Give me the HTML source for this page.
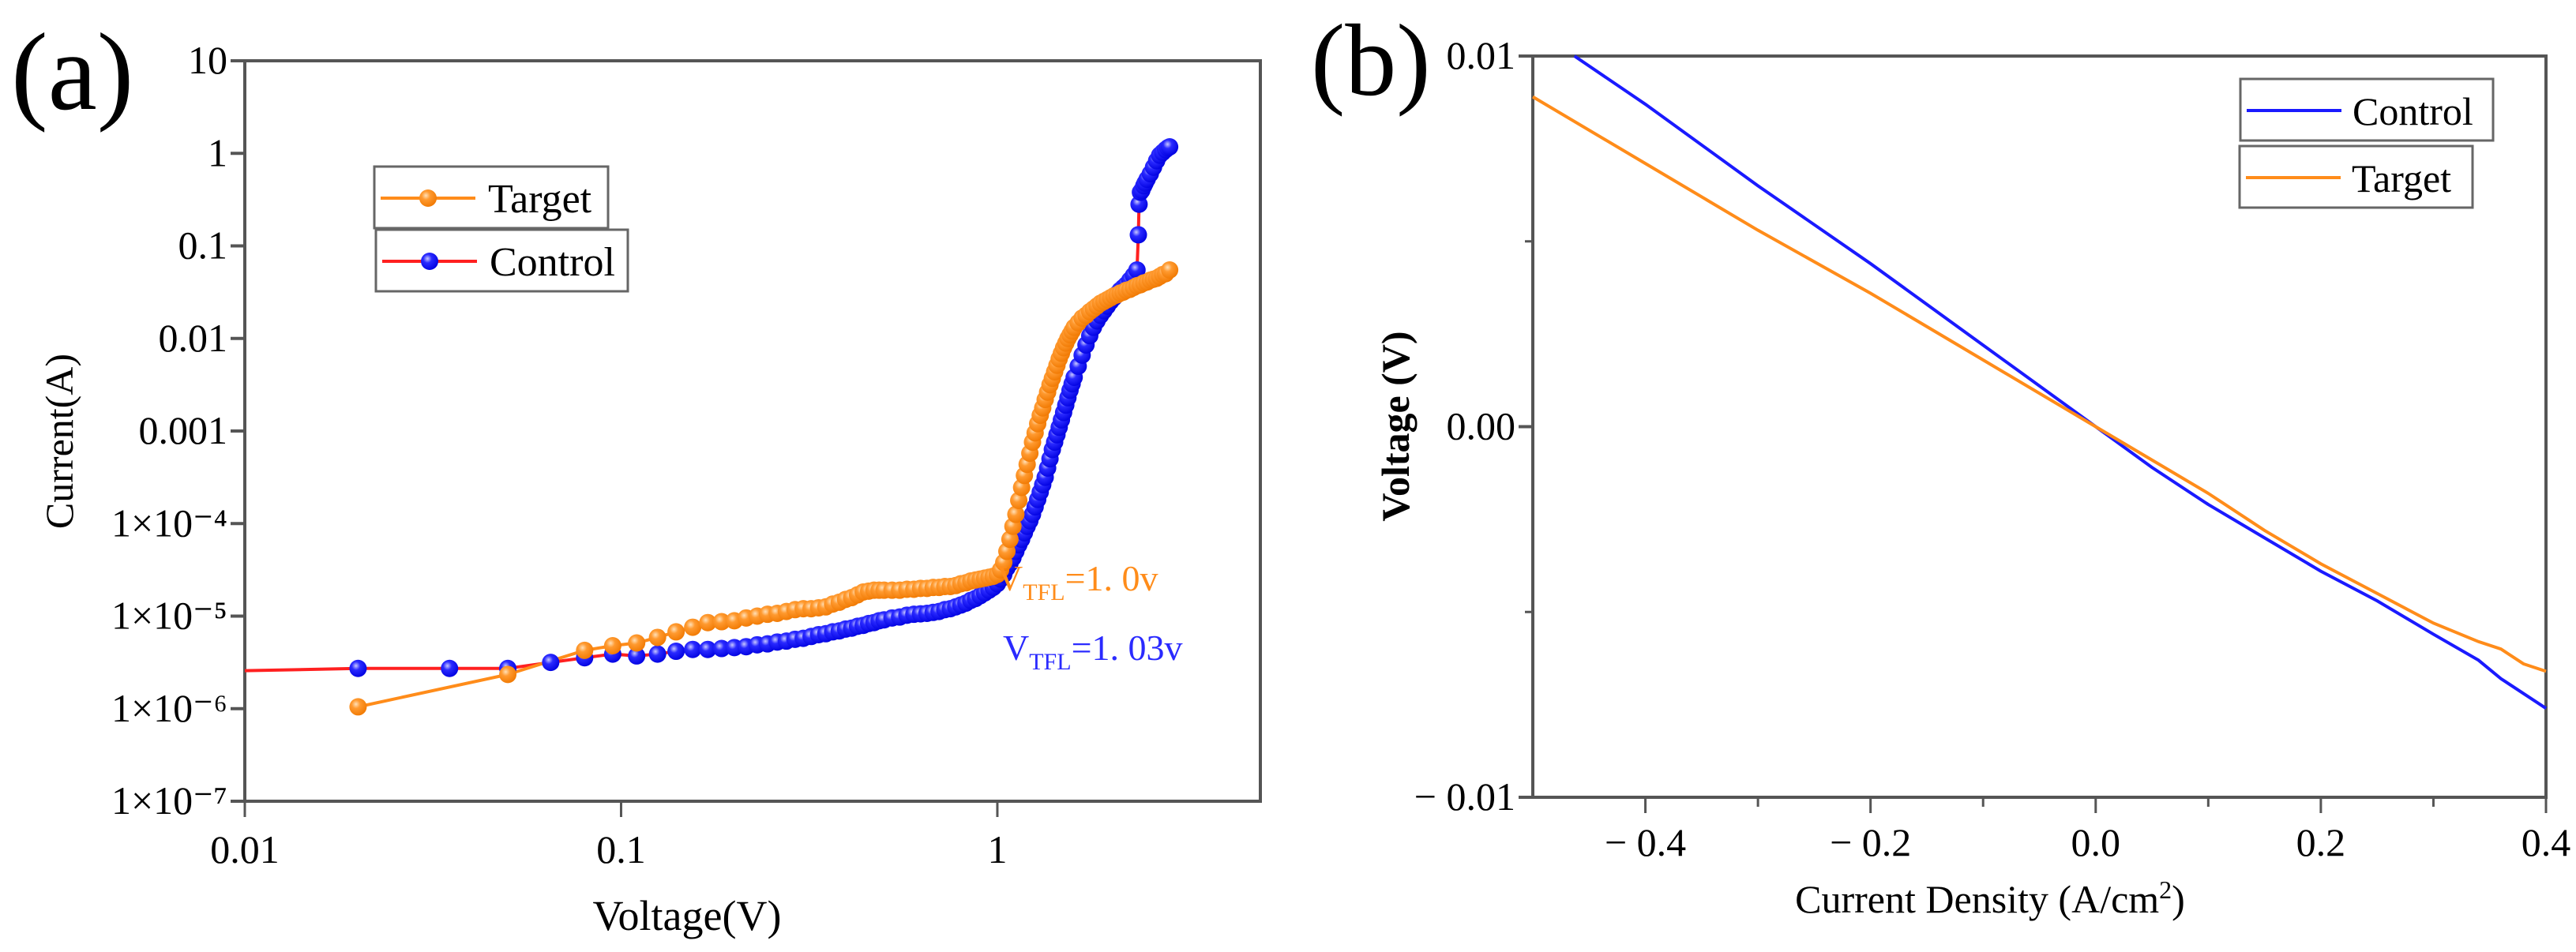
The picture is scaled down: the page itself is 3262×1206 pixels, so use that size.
<!DOCTYPE html>
<html><head><meta charset="utf-8">
<style>
html,body{margin:0;padding:0;background:#fff;}
svg{display:block;font-family:"Liberation Serif",serif;}
</style></head>
<body>
<svg id="fig" width="3262" height="1206" viewBox="0 0 3262 1206" xmlns="http://www.w3.org/2000/svg">
<defs>
<radialGradient id="gO" cx="0.38" cy="0.35" r="0.7"><stop offset="0" stop-color="#ffe0b8"/><stop offset="0.35" stop-color="#ff9a30"/><stop offset="1" stop-color="#f07800"/></radialGradient>
<radialGradient id="gB" cx="0.38" cy="0.35" r="0.7"><stop offset="0" stop-color="#c8c8ff"/><stop offset="0.35" stop-color="#2a2aff"/><stop offset="1" stop-color="#0000e0"/></radialGradient>
</defs>
<text x="14" y="138" font-size="140">(a)</text>
<text x="1660" y="120" font-size="130">(b)</text>
<g id="left"></g>
<g id="right"></g>
</svg>
<script>
// ---- Panel (a) data ----
const ctrlV = [0.02,0.035,0.05,0.065,0.08,0.095,0.11,0.125,0.14,0.155,0.17,0.185,0.2,0.215,0.23,0.245,0.26,0.275,0.29,0.305,0.32,0.335,0.35,0.365,0.38,0.395,0.41,0.425,0.44,0.455,0.47,0.485,0.5,0.525,0.55,0.575,0.6,0.625,0.65,0.675,0.7,0.725,0.75,0.775,0.8,0.825,0.85,0.875,0.9,0.925,0.95,0.975,
1.0,1.02,1.04,1.06,1.08,1.1,1.12,1.14,1.16,1.18,1.2,1.22,1.24,1.26,1.28,1.3,1.32,1.34,1.36,1.38,1.4,1.42,1.44,1.46,1.48,1.5,1.52,1.54,1.56,1.58,1.6,1.64,1.68,1.72,1.76,1.8,1.84,1.88,1.92,1.96,2.0,2.04,2.08,2.12,2.16,2.2,2.25,2.3,2.35,2.37,2.38,2.4,2.42,2.45,2.47,2.5,2.55,2.6,2.65,2.7,2.75,2.8,2.84,2.87];
const ctrlLogI = [-5.565,-5.565,-5.565,-5.5,-5.45,-5.41,-5.43,-5.41,-5.38,-5.36,-5.36,-5.35,-5.34,-5.33,-5.31,-5.3,-5.28,-5.27,-5.25,-5.24,-5.22,-5.2,-5.19,-5.17,-5.16,-5.14,-5.13,-5.11,-5.1,-5.08,-5.07,-5.05,-5.04,-5.02,-5.01,-4.99,-4.98,-4.975,-4.97,-4.96,-4.95,-4.93,-4.92,-4.9,-4.88,-4.86,-4.83,-4.81,-4.78,-4.75,-4.72,-4.69,
-4.65,-4.6,-4.55,-4.48,-4.43,-4.37,-4.3,-4.23,-4.17,-4.1,-4.03,-3.97,-3.9,-3.82,-3.74,-3.66,-3.58,-3.5,-3.4,-3.3,-3.2,-3.12,-3.04,-2.96,-2.88,-2.8,-2.72,-2.64,-2.56,-2.49,-2.42,-2.3,-2.18,-2.07,-1.97,-1.88,-1.81,-1.75,-1.7,-1.65,-1.6,-1.56,-1.52,-1.48,-1.45,-1.42,-1.37,-1.32,-1.26,-0.88,-0.55,-0.42,-0.4,-0.35,-0.32,-0.28,-0.22,-0.15,-0.08,-0.02,0.01,0.04,0.06,0.07];
const targV = [0.02,0.05,0.08,0.095,0.11,0.125,0.14,0.155,0.17,0.185,0.2,0.215,0.23,0.245,0.26,0.275,0.29,0.305,0.32,0.335,0.35,0.365,0.38,0.395,0.41,0.425,0.44,0.455,0.47,0.485,0.5,0.525,0.55,0.575,0.6,0.625,0.65,0.675,0.7,0.725,0.75,0.775,0.8,0.825,0.85,0.875,0.9,0.925,0.95,0.975,
1.0,1.02,1.04,1.06,1.08,1.1,1.12,1.14,1.16,1.18,1.2,1.22,1.24,1.26,1.28,1.3,1.32,1.34,1.36,1.38,1.4,1.42,1.44,1.46,1.48,1.5,1.52,1.54,1.56,1.58,1.6,1.64,1.68,1.72,1.76,1.8,1.84,1.88,1.92,1.96,2.0,2.04,2.08,2.12,2.16,2.2,2.25,2.3,2.35,2.4,2.45,2.5,2.55,2.6,2.65,2.7,2.75,2.8,2.87];
const targLogI = [-5.98,-5.63,-5.37,-5.32,-5.29,-5.23,-5.17,-5.12,-5.07,-5.06,-5.05,-5.02,-5.0,-4.98,-4.97,-4.95,-4.93,-4.92,-4.92,-4.91,-4.9,-4.87,-4.85,-4.82,-4.8,-4.77,-4.74,-4.73,-4.72,-4.72,-4.72,-4.72,-4.72,-4.71,-4.71,-4.7,-4.7,-4.69,-4.69,-4.68,-4.68,-4.67,-4.65,-4.64,-4.62,-4.61,-4.6,-4.59,-4.58,-4.57,
-4.55,-4.5,-4.42,-4.3,-4.17,-4.03,-3.9,-3.75,-3.61,-3.48,-3.36,-3.24,-3.12,-3.02,-2.92,-2.83,-2.75,-2.66,-2.58,-2.5,-2.43,-2.36,-2.29,-2.22,-2.16,-2.1,-2.05,-2.0,-1.96,-1.92,-1.88,-1.83,-1.78,-1.75,-1.71,-1.68,-1.65,-1.62,-1.6,-1.58,-1.56,-1.54,-1.53,-1.51,-1.5,-1.48,-1.47,-1.45,-1.43,-1.42,-1.4,-1.39,-1.37,-1.36,-1.35,-1.33,-1.31,-1.3,-1.26];
const xTicksA = [0.01,0.1,1];
const xTickLabelsA = ["0.01","0.1","1"];
const yTicksA = [1,0,-1,-2,-3,-4,-5,-6,-7];
const yTickLabelsA = ["10","1","0.1","0.01","0.001","1×10⁻⁴","1×10⁻⁵","1×10⁻⁶","1×10⁻⁷"];
// ---- Panel (b) data ----
const ctrlJ = [-0.463,-0.4,-0.3,-0.2,-0.1,0,0.05,0.1,0.15,0.2,0.25,0.3,0.34,0.36,0.4];
const ctrlVolt = [0.01,0.0087,0.0065,0.0044,0.0022,0,-0.0011,-0.0021,-0.0030,-0.0039,-0.0047,-0.0056,-0.0063,-0.0068,-0.0076];
const targJ = [-0.5,-0.4,-0.3,-0.2,-0.1,0,0.05,0.1,0.15,0.2,0.25,0.3,0.34,0.36,0.38,0.4];
const targVolt = [0.0089,0.0071,0.0053,0.0036,0.0018,0,-0.0009,-0.0018,-0.0028,-0.0037,-0.0045,-0.0053,-0.0058,-0.0060,-0.0064,-0.0066];
const xTicksB = [-0.4,-0.2,0,0.2,0.4];
const xTickLabelsB = ["− 0.4","− 0.2","0.0","0.2","0.4"];
const xMinorB = [-0.3,-0.1,0.1,0.3];
const yTicksB = [0.01,0,-0.01];
const yTickLabelsB = ["0.01","0.00","− 0.01"];
const yMinorB = [0.005,-0.005];

const NS="http://www.w3.org/2000/svg";
function mk(parent,tag,attrs,txt){const e=document.createElementNS(NS,tag);for(const k in attrs)e.setAttribute(k,attrs[k]);if(txt!==undefined)e.textContent=txt;parent.appendChild(e);return e;}

// ---- Panel (a) ----
const A={l:310,r:1596,t:77,b:1015,xmin:-2,xmax:Math.log10(5),ymin:-7,ymax:1};
const ax=v=>A.l+(Math.log10(v)-A.xmin)/(A.xmax-A.xmin)*(A.r-A.l);
const ay=lg=>A.b-(lg-A.ymin)/(A.ymax-A.ymin)*(A.b-A.t);
const gA=document.getElementById('left');
let fr=mk(gA,'rect',{x:A.l,y:A.t,width:A.r-A.l,height:A.b-A.t,fill:'none',stroke:'#555',"stroke-width":4});


yTicksA.forEach((lg,i)=>{
  let tk=mk(gA,'line',{x1:A.l-18,x2:A.l,y1:ay(lg),y2:ay(lg),stroke:'#555',"stroke-width":4});
  
  
  let t=mk(gA,'text',{x:A.l-22,y:ay(lg)+16,"font-size":50,"text-anchor":"end"},yTickLabelsA[i]);
  
  
});
xTicksA.forEach((v,i)=>{
  let tk=mk(gA,'line',{x1:ax(v),x2:ax(v),y1:A.b,y2:A.b+20,stroke:'#555',"stroke-width":3});
  
  
  let t=mk(gA,'text',{x:ax(v),y:1093,"font-size":50,"text-anchor":"middle"},xTickLabelsA[i]);
  
  
});
let xtA=mk(gA,'text',{x:870,y:1178,"font-size":54,"text-anchor":"middle"},'Voltage(V)');


let ytA=mk(gA,'text',{x:0,y:0,"font-size":50,"text-anchor":"middle",transform:'translate(92,559) rotate(-90)'},'Current(A)');


let cpts=[[A.l,ay(-5.59)]].concat(ctrlV.map((v,i)=>[ax(v),ay(ctrlLogI[i])]));
let cl=mk(gA,'polyline',{points:cpts.map(p=>p.join(',')).join(' '),fill:'none',stroke:'#ff2020',"stroke-width":4});


let tl=mk(gA,'polyline',{points:targV.map((v,i)=>ax(v)+','+ay(targLogI[i])).join(' '),fill:'none',stroke:'#ff8c1a',"stroke-width":4});


ctrlV.forEach((v,i)=>{
  let c=mk(gA,'circle',{cx:ax(v),cy:ay(ctrlLogI[i]),r:11,fill:'url(#gB)'});
  
  
});
targV.forEach((v,i)=>{
  let c=mk(gA,'circle',{cx:ax(v),cy:ay(targLogI[i]),r:11,fill:'url(#gO)'});
  
  
});
let an1=mk(gA,'text',{x:1262,y:748,"font-size":46,fill:'#ff8c1a'});
an1.innerHTML='V<tspan font-size="30" dy="12">TFL</tspan><tspan dy="-12">=1. 0v</tspan>';


let an2=mk(gA,'text',{x:1270,y:836,"font-size":46,fill:'#2a2aff'});
an2.innerHTML='V<tspan font-size="30" dy="12">TFL</tspan><tspan dy="-12">=1. 03v</tspan>';


[[474,211,296,'Target','#ff8c1a','#ff8c1a','url(#gO)'],[476,291,319,'Control','#ff2020','#2a2aff','url(#gB)']].forEach((L,i)=>{
  let g=mk(gA,'g',{});
  
  
  mk(g,'rect',{x:L[0],y:L[1],width:L[2],height:78,fill:'#fff',stroke:'#666',"stroke-width":3});
  mk(g,'line',{x1:L[0]+8,x2:L[0]+128,y1:L[1]+40,y2:L[1]+40,stroke:L[4],"stroke-width":4});
  mk(g,'circle',{cx:L[0]+68,cy:L[1]+40,r:11,fill:L[6]});
  mk(g,'text',{x:L[0]+144,y:L[1]+58,"font-size":52},L[3]);
});

// ---- Panel (b) ----
const B={l:1941,r:3224,t:71,b:1010,xmin:-0.5,xmax:0.4,ymin:-0.01,ymax:0.01};
const bx=v=>B.l+(v-B.xmin)/(B.xmax-B.xmin)*(B.r-B.l);
const by=v=>B.b-(v-B.ymin)/(B.ymax-B.ymin)*(B.b-B.t);
const gB=document.getElementById('right');
let frB=mk(gB,'rect',{x:B.l,y:B.t,width:B.r-B.l,height:B.b-B.t,fill:'none',stroke:'#555',"stroke-width":4});


xTicksB.forEach((v,i)=>{
  let tk=mk(gB,'line',{x1:bx(v),x2:bx(v),y1:B.b,y2:B.b+20,stroke:'#555',"stroke-width":3});
  
  
  let t=mk(gB,'text',{x:bx(v),y:1084,"font-size":50,"text-anchor":"middle"},xTickLabelsB[i]);
  
  
});
xMinorB.forEach(v=>{
  let tk=mk(gB,'line',{x1:bx(v),x2:bx(v),y1:B.b,y2:B.b+12,stroke:'#555',"stroke-width":3});
  
  
});
yTicksB.forEach((v,i)=>{
  let tk=mk(gB,'line',{x1:B.l-18,x2:B.l,y1:by(v),y2:by(v),stroke:'#555',"stroke-width":4});
  
  
  let t=mk(gB,'text',{x:B.l-22,y:by(v)+16,"font-size":50,"text-anchor":"end"},yTickLabelsB[i]);
  
  
});
yMinorB.forEach(v=>{
  let tk=mk(gB,'line',{x1:B.l-10,x2:B.l,y1:by(v),y2:by(v),stroke:'#555',"stroke-width":3});
  
  
});
let xtB=mk(gB,'text',{x:2520,y:1156,"font-size":50,"text-anchor":"middle"});
xtB.innerHTML='Current Density (A/cm<tspan font-size="32" dy="-18">2</tspan><tspan dy="18">)</tspan>';


let ytB=mk(gB,'text',{x:0,y:0,"font-size":50,"font-weight":"bold","text-anchor":"middle",transform:'translate(1784,540) rotate(-90)'},'Voltage (V)');


let lc=mk(gB,'polyline',{points:ctrlJ.map((v,i)=>bx(v)+','+by(ctrlVolt[i])).join(' '),fill:'none',stroke:'#1a1aff',"stroke-width":4});


let lt=mk(gB,'polyline',{points:targJ.map((v,i)=>bx(v)+','+by(targVolt[i])).join(' '),fill:'none',stroke:'#ff8c1a',"stroke-width":4});


[[2837,100,320,'Control','#1a1aff'],[2836,185,295,'Target','#ff8c1a']].forEach(L=>{
  let g=mk(gB,'g',{});
  
  
  mk(g,'rect',{x:L[0],y:L[1],width:L[2],height:78,fill:'#fff',stroke:'#666',"stroke-width":3});
  mk(g,'line',{x1:L[0]+8,x2:L[0]+128,y1:L[1]+40,y2:L[1]+40,stroke:L[4],"stroke-width":4});
  mk(g,'text',{x:L[0]+142,y:L[1]+58,"font-size":50},L[3]);
});
</script>
</body></html>
